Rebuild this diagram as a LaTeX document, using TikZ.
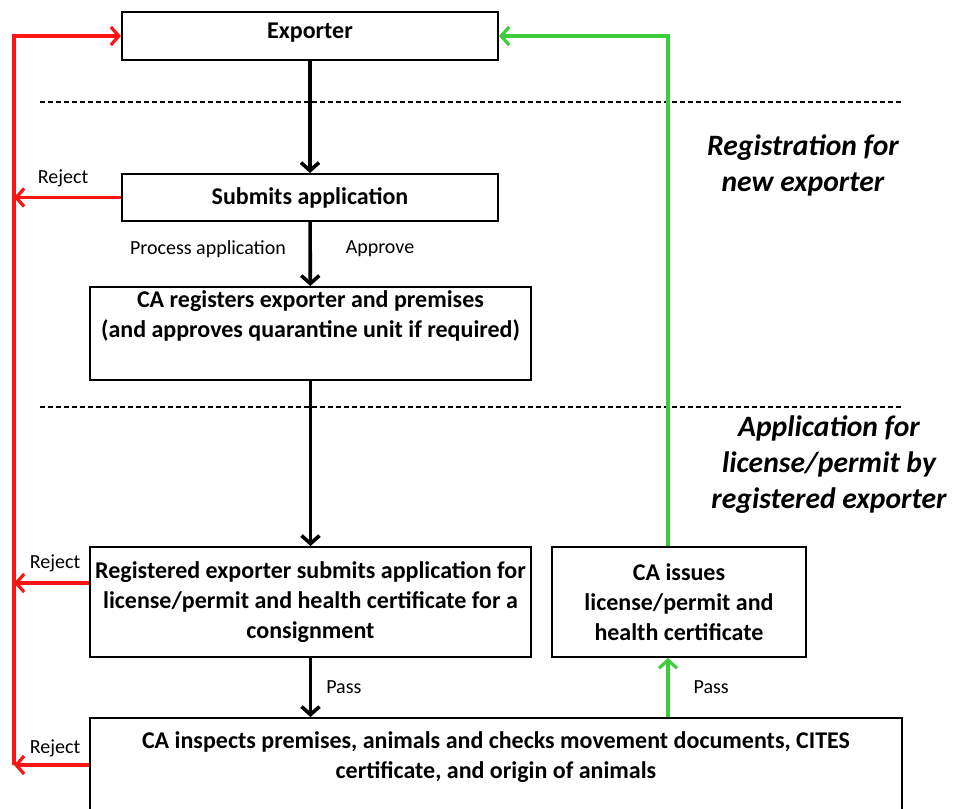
\documentclass[tikz,border=0pt]{standalone}
\usepackage{fontspec}
\setmainfont{Carlito}
\usetikzlibrary{arrows.meta}
\definecolor{rejred}{RGB}{255,20,20}
\definecolor{passgreen}{RGB}{60,205,60}

\begin{document}
\begin{tikzpicture}[x=0.5pt,y=-0.5pt, box node/.style={rectangle,draw,line width=1pt,align=center,inner sep=0pt,font=\fontsize{12}{15}\selectfont\bfseries}, side node/.style={inner sep=0pt,font=\fontsize{10}{12}\selectfont}, title node/.style={align=center,font=\fontsize{14.8}{18}\selectfont\bfseries\itshape}, flow/.style={-{Straight Barb[length=4pt,width=9pt]},line width=1.8pt}, reject/.style={-{Straight Barb[length=4pt,width=9pt]},draw=rejred,line width=1.6pt}, pass/.style={-{Straight Barb[length=4pt,width=9pt]},draw=passgreen,line width=1.6pt}, sep line/.style={dash pattern=on 2.5pt off 1.5pt,line width=0.7pt}]

\useasboundingbox (0,0) rectangle (955,809);

\node[box node, minimum width=188pt, minimum height=24pt] (n0) at (310,36) {\smash{\raisebox{1.5pt}{Exporter}}\vphantom{Ep}};
\node[box node, minimum width=188pt, minimum height=23.5pt] (n1) at (310,197.5) {Submits application};
\node[box node, minimum width=220.5pt, minimum height=46.5pt] (n2) at (310.5,333.5) {CA registers exporter and premises\\(and approves quarantine unit if required)\\\strut};
\node[box node, minimum width=220.5pt, minimum height=55pt] (n3) at (310.5,602) {Registered exporter submits application for\\license/permit and health certificate for a\\consignment};
\node[box node, minimum width=127pt, minimum height=55pt] (n4) at (679,602) {CA issues\\license/permit and\\health certificate};
\node[box node, minimum width=406pt, minimum height=57pt] (n5) at (496,775) {CA inspects premises, animals and checks movement documents, CITES\\certificate, and origin of animals\\\strut};

\node[title node] (t0) at (803,165) {Registration for\\new exporter};
\node[title node] (t1) at (829,465) {Application for\\license/permit by\\registered exporter};

\node[side node] (l0) at (208,249) {Process application};
\node[side node] (l1) at (380,249) {Approve};
\node[side node] (l2) at (63,178) {Reject};
\node[side node] (l3) at (55,563) {Reject};
\node[side node] (l4) at (55,748) {Reject};

\coordinate (r1) at (14,197.5);
\coordinate (r3) at (14,583);
\coordinate (r5) at (14,765);
\coordinate (g0) at (668,0);

\draw[sep line] (40,102) -- (903,102);
\draw[sep line] (40,407) -- (903,407);

\path[](n0) [flow] edge node [] {} (n1);
\path[](n1) [flow] edge node [] {} (n2);
\path[](n2) [flow] edge node [] {} (n3);
\path[](n3.south) [flow] edge node [side node, right=7pt] {Pass} (n3.south |- n5.north);

\draw[reject] (n1.west) -- (r1);
\draw[reject] (n3.west |- r3) -- (r3);
\draw[reject] (n5.west |- r5) -- (r5);
\draw[reject] (r5) |- (n0.west);

\draw[pass] (g0 |- n5.north) -- node [side node, right=12pt] {Pass} (g0 |- n4.south);
\draw[pass] (g0 |- n4.north) |- (n0.east);
\end{tikzpicture}
\end{document}
